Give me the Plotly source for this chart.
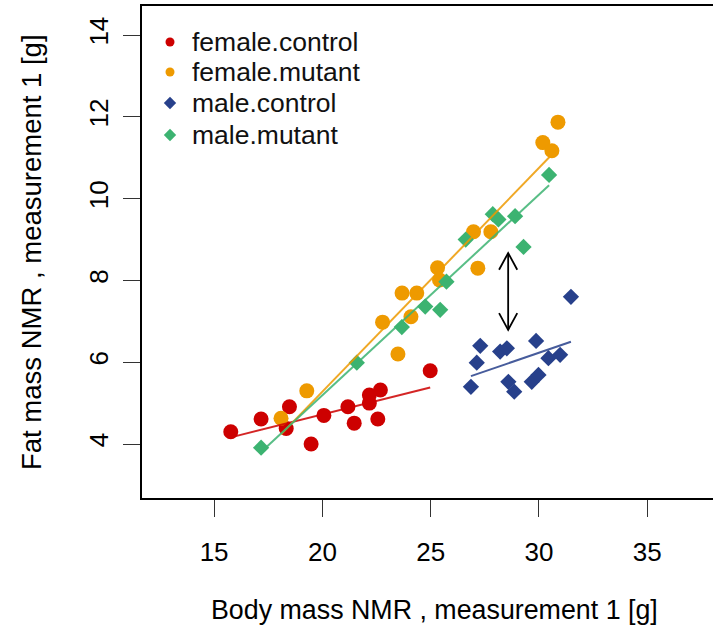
import numpy as np
import plotly.graph_objects as go

# ---------------- data ----------------
fc_x = [15.77, 17.17, 18.48, 18.33, 19.48, 20.07, 21.18, 21.47, 22.17, 22.17, 22.68, 22.56, 24.98]
fc_y = [4.30, 4.61, 4.91, 4.38, 4.00, 4.70, 4.91, 4.51, 5.20, 5.00, 5.32, 4.61, 5.79]

fm_x = [18.09, 19.28, 22.78, 23.49, 24.09, 23.68, 24.36, 25.32, 25.41, 27.18, 26.98, 27.78, 30.18, 30.60, 30.88]
fm_y = [4.63, 5.30, 6.98, 6.20, 7.11, 7.69, 7.69, 8.31, 8.01, 8.30, 9.19, 9.19, 11.37, 11.17, 11.87]

mc_x = [26.86, 27.13, 27.29, 28.21, 28.52, 28.59, 28.86, 29.67, 29.98, 29.87, 30.44, 30.98, 31.48]
mc_y = [5.40, 5.99, 6.40, 6.26, 6.34, 5.52, 5.28, 5.52, 5.69, 6.52, 6.10, 6.18, 7.60]

mm_x = [17.17, 21.59, 23.67, 24.75, 25.44, 25.73, 26.62, 27.87, 28.13, 28.90, 29.29, 30.47]
mm_y = [3.91, 5.99, 6.86, 7.36, 7.28, 7.97, 9.00, 9.62, 9.49, 9.57, 8.82, 10.58]

group_names = ["female.control", "female.mutant", "male.control", "male.mutant"]
group_colors = ["#CD0000", "#EE9A00", "#27408B", "#3CB371"]
group_symbols = ["circle", "circle", "diamond", "diamond"]

x_ticks = [15, 20, 25, 30, 35]
y_ticks = [4, 6, 8, 10, 12, 14]

# annotation arrow (between the two male groups)
arrow_x = 28.58
arrow_y0, arrow_y1 = 6.79, 8.67

FONT = "Liberation Sans, Arial, sans-serif"

W, H = 713, 629
ML, MR, MT, MB = 142, 0, 6, 131
PW, PH = W - ML - MR, H - MT - MB

groups = [(fc_x, fc_y), (fm_x, fm_y), (mc_x, mc_y), (mm_x, mm_y)]

fig = go.Figure()

# points
for (gx, gy), name, col, sym in zip(groups, group_names, group_colors, group_symbols):
    fig.add_trace(go.Scatter(
        x=gx, y=gy, mode="markers", name=name, showlegend=False,
        marker=dict(color=col, symbol=sym, size=15 if sym == "circle" else 12.5,
                    line=dict(width=0)),
    ))

# regression lines over each group's range
for (gx, gy), col in zip(groups, group_colors):
    b, a = np.polyfit(gx, gy, 1)
    xs = np.array([min(gx), max(gx)])
    fig.add_trace(go.Scatter(
        x=xs, y=a + b * xs, mode="lines", showlegend=False,
        line=dict(color=col, width=2), opacity=0.85, hoverinfo="skip",
    ))

# legend (drawn inside the plot, top-left, on an overlay axis in plot fractions)
leg_sym_px = 170
leg_txt_px = 190
leg_rows_px = [42, 72, 103, 135]
leg_fx = (leg_sym_px - ML) / PW
leg_fy = [(MT + PH - r) / PH for r in leg_rows_px]
for name, col, sym, fy in zip(group_names, group_colors, group_symbols, leg_fy):
    fig.add_trace(go.Scatter(
        x=[leg_fx], y=[fy], xaxis="x2", yaxis="y2", mode="markers", showlegend=False,
        hoverinfo="skip",
        marker=dict(color=col, symbol=sym, size=9 if sym == "circle" else 9.5, line=dict(width=0)),
    ))
    fig.add_annotation(text=name, xref="paper", yref="paper",
                       x=(leg_txt_px - ML) / PW, y=fy, xanchor="left", yanchor="middle",
                       showarrow=False, font=dict(size=26.5, family=FONT, color="#111"))

# double-headed arrow
hx, hy = 0.42, 0.41
arrow_style = dict(color="black", width=1.8)
fig.add_shape(type="line", x0=arrow_x, x1=arrow_x, y0=arrow_y0, y1=arrow_y1,
              xref="x", yref="y", line=arrow_style)
fig.add_shape(type="path", xref="x", yref="y", line=arrow_style,
              path=f"M {arrow_x - hx} {arrow_y1 - hy} L {arrow_x} {arrow_y1} L {arrow_x + hx} {arrow_y1 - hy}")
fig.add_shape(type="path", xref="x", yref="y", line=arrow_style,
              path=f"M {arrow_x - hx} {arrow_y0 + hy} L {arrow_x} {arrow_y0} L {arrow_x + hx} {arrow_y0 + hy}")

# axis titles as annotations (positioned like the reference)
fig.add_annotation(text="Body mass NMR , measurement 1 [g]", xref="paper", yref="paper",
                   x=(434 - ML) / PW, y=-(610 - (MT + PH)) / PH, showarrow=False,
                   xanchor="center", yanchor="middle", font=dict(size=26.8, family=FONT, color="black"))
fig.add_annotation(text="Fat mass NMR , measurement 1 [g]", xref="paper", yref="paper",
                   x=(31 - ML) / PW, y=0.5, showarrow=False, textangle=-90,
                   xanchor="center", yanchor="middle", font=dict(size=27.5, family=FONT, color="black"))

fig.update_layout(
    width=W, height=H,
    margin=dict(l=ML, r=MR, t=MT, b=MB, pad=0),
    paper_bgcolor="white", plot_bgcolor="white",
    font=dict(family=FONT, size=26, color="black"),
    showlegend=False,
    xaxis=dict(range=[11.67, 38.04], tickvals=x_ticks, ticks="outside", ticklen=17,
               tickwidth=1, tickcolor="#333", showgrid=False, zeroline=False,
               showline=True, linecolor="black", linewidth=2, mirror=True,
               tickfont=dict(size=26, family=FONT, color="black"), ticklabelstandoff=13),
    yaxis=dict(range=[2.68, 14.71], tickvals=y_ticks, ticks="outside", ticklen=17,
               tickwidth=1, tickcolor="#333", showgrid=False, zeroline=False,
               showline=True, linecolor="black", linewidth=2, mirror=False,
               tickangle=-90, tickfont=dict(size=26, family=FONT, color="black"),
               ticklabelstandoff=5),
    xaxis2=dict(overlaying="x", range=[0, 1], visible=False, anchor="y2"),
    yaxis2=dict(overlaying="y", range=[0, 1], visible=False, anchor="x2"),
)

fig.write_html("out.html")
